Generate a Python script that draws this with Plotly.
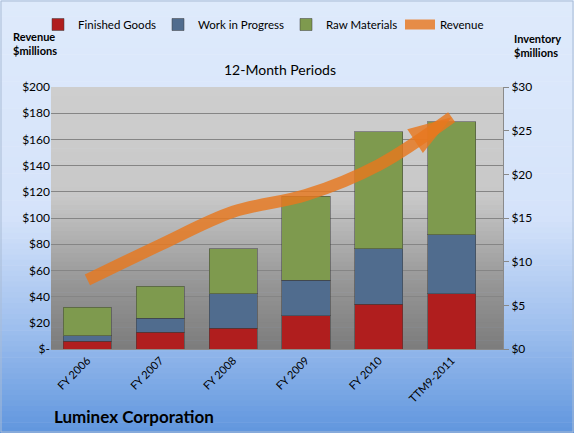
import plotly.graph_objects as go

periods = ["FY 2006", "FY 2007", "FY 2008", "FY 2009", "FY 2010", "TTM9-2011"]
finished_goods = [0.9, 1.9, 2.4, 3.8, 5.1, 6.3]
work_in_progress = [0.6, 1.6, 3.9, 4.1, 6.4, 6.8]
raw_materials = [3.3, 3.7, 5.2, 9.6, 13.4, 12.9]
revenue = [52.7, 79.5, 104.8, 117.5, 140.5, 177.0]

rev_ticks = [0, 20, 40, 60, 80, 100, 120, 140, 160, 180, 200]
rev_labels = ["$-"] + ["$%d" % v for v in rev_ticks[1:]]
inv_ticks = [0, 5, 10, 15, 20, 25, 30]
inv_labels = ["$%d" % v for v in inv_ticks]

FONT = "Lato, 'Open Sans', sans-serif"
ORANGE = "#E8781E"

W, H = 574, 433
L, R, T, B = 51, 71, 87, 84
pw, ph = W - L - R, H - T - B


def px_x(p):
    return (p - L) / pw


def px_y(p):
    return (H - B - p) / ph


def mix(c1, c2, t):
    return "rgb(%d,%d,%d)" % tuple(round(a + (b - a) * t) for a, b in zip(c1, c2))


def bands(stops, x0, x1, y_top, y_bot, n=60):
    # fake vertical gradient with thin rectangles (pixel positions)
    out = []
    step = (y_bot - y_top) / n
    for i in range(n):
        pos = (i + 0.5) / n
        for j in range(len(stops) - 1):
            if stops[j][0] <= pos <= stops[j + 1][0]:
                t = (pos - stops[j][0]) / (stops[j + 1][0] - stops[j][0])
                col = mix(stops[j][1], stops[j + 1][1], t)
                break
        ya = y_top + i * step
        yb = y_top + (i + 1) * step + 0.6
        out.append(dict(type="rect", xref="paper", yref="paper", layer="below",
                        x0=px_x(x0), x1=px_x(x1), y0=px_y(yb), y1=px_y(ya),
                        fillcolor=col, line_width=0))
    return out


def legend_at(x_px):
    return dict(orientation="h", x=px_x(x_px), xanchor="left", xref="paper",
                y=px_y(10), yanchor="top", yref="paper", bgcolor="rgba(0,0,0,0)",
                font=dict(size=11.5), itemwidth=30)


shapes = []
shapes += bands([(0, (222, 234, 251)), (0.5, (213, 227, 250)), (0.75, (160, 192, 238)), (1, (96, 150, 222))],
                0, W, 0, H, n=80)
shapes += bands([(0, (206, 206, 206)), (0.42, (200, 200, 200)), (0.75, (150, 150, 150)), (1, (124, 124, 124))],
                L, L + pw, T, T + ph, n=60)
shapes.append(dict(type="rect", xref="paper", yref="paper", layer="above",
                   x0=px_x(1), x1=px_x(W - 1), y0=px_y(H - 1), y1=px_y(1),
                   line=dict(color="#A9BCD6", width=1), fillcolor="rgba(0,0,0,0)"))

fig = go.Figure()
bar_line = dict(width=1, color="rgba(60,60,60,0.5)")
fig.add_trace(go.Bar(x=periods, y=finished_goods, name="Finished Goods", legend="legend",
                     marker=dict(color="#B01E1E", line=bar_line), yaxis="y"))
fig.add_trace(go.Bar(x=periods, y=work_in_progress, name="Work in Progress", legend="legend2",
                     marker=dict(color="#506C8E", line=bar_line), yaxis="y"))
fig.add_trace(go.Bar(x=periods, y=raw_materials, name="Raw Materials", legend="legend3",
                     marker=dict(color="#7E9A4E", line=bar_line), yaxis="y"))
fig.add_trace(go.Scatter(x=periods, y=revenue, name="Revenue", yaxis="y2", legend="legend4",
                         mode="lines", line=dict(color=ORANGE, width=12, shape="spline"),
                         opacity=0.82))
# arrow head at the last revenue point
fig.add_trace(go.Scatter(x=periods[-2:], y=revenue[-2:], yaxis="y2", mode="markers",
                         showlegend=False, hoverinfo="skip",
                         marker=dict(symbol="arrow", size=[0, 46], angleref="previous",
                                     color=ORANGE, opacity=0.82, line=dict(width=0))))

fig.update_layout(
    width=W, height=H,
    margin=dict(l=L, r=R, t=T, b=B, autoexpand=False),
    paper_bgcolor="rgba(0,0,0,0)",
    plot_bgcolor="rgba(0,0,0,0)",
    barmode="stack", bargap=0.34,
    font=dict(family=FONT, size=11, color="black"),
    shapes=shapes,
    showlegend=True,
    legend=legend_at(38),
    legend2=legend_at(158),
    legend3=legend_at(286),
    legend4=legend_at(400),
    xaxis=dict(tickangle=-45, showgrid=False, ticks="", tickfont=dict(size=11),
               showline=True, linecolor="#8A8A8A"),
    yaxis=dict(side="right", range=[0, 30], tickvals=inv_ticks, ticktext=inv_labels,
               showgrid=False, zeroline=False, ticks="outside", ticklen=5, tickcolor="#888",
               showline=True, linecolor="#8A8A8A", tickfont=dict(size=12)),
    yaxis2=dict(side="left", overlaying="y", range=[0, 200], tickvals=rev_ticks,
                ticktext=rev_labels, showgrid=True, gridcolor="#858585", gridwidth=1,
                zeroline=False, ticks="", tickfont=dict(size=12), showline=False),
    annotations=[
        dict(text="<b>Revenue<br>$millions</b>", xref="paper", yref="paper",
             x=px_x(11), y=px_y(44), xanchor="left", yanchor="middle",
             showarrow=False, align="left", font=dict(size=11)),
        dict(text="<b>Inventory<br>$millions</b>", xref="paper", yref="paper",
             x=px_x(537), y=px_y(45), xanchor="center", yanchor="middle",
             showarrow=False, align="left", font=dict(size=11)),
        dict(text="12-Month Periods", xref="paper", yref="paper",
             x=px_x(280), y=px_y(70), xanchor="center", yanchor="middle",
             showarrow=False, font=dict(size=14)),
        dict(text="<b>Luminex Corporation</b>", xref="paper", yref="paper",
             x=px_x(52), y=px_y(416), xanchor="left", yanchor="middle",
             showarrow=False, font=dict(size=17)),
    ],
)

fig.write_html("out.html", config={"displayModeBar": False},
               post_script="document.body.style.margin='0';")
